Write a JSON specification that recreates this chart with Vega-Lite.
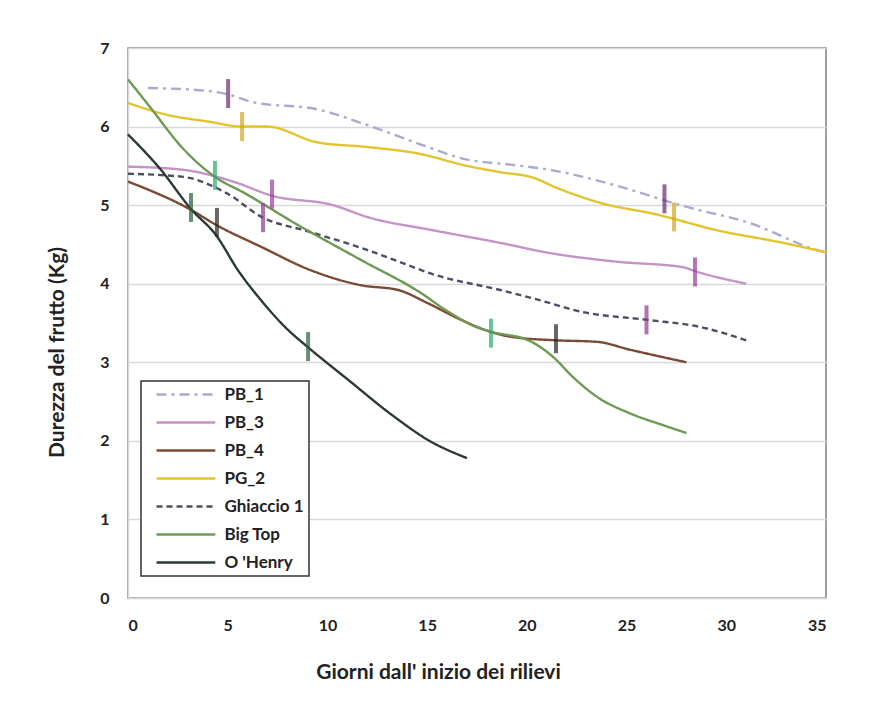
{
  "$schema": "https://vega.github.io/schema/vega-lite/v6.json",
  "width": 698,
  "height": 550,
  "autosize": {"type": "none"},
  "padding": {"left": 128, "top": 48, "right": 57, "bottom": 108},
  "background": "white",
  "datasets": {
    "lines": [
      {"series": "PB_1", "x": 1.0, "y": 6.49}, {"series": "PB_1", "x": 3.26, "y": 6.47}, {"series": "PB_1", "x": 5.02, "y": 6.41}, {"series": "PB_1", "x": 6.27, "y": 6.31}, {"series": "PB_1", "x": 9.48, "y": 6.22}, {"series": "PB_1", "x": 11.99, "y": 6.02}, {"series": "PB_1", "x": 14.49, "y": 5.79}, {"series": "PB_1", "x": 17.0, "y": 5.58}, {"series": "PB_1", "x": 19.0, "y": 5.52}, {"series": "PB_1", "x": 21.16, "y": 5.45}, {"series": "PB_1", "x": 24.32, "y": 5.26}, {"series": "PB_1", "x": 27.83, "y": 4.99}, {"series": "PB_1", "x": 31.19, "y": 4.77}, {"series": "PB_1", "x": 34.55, "y": 4.43}, {"series": "PB_1", "x": 35, "y": 4.4},
      {"series": "PB_3", "x": 0, "y": 5.49}, {"series": "PB_3", "x": 2.76, "y": 5.45}, {"series": "PB_3", "x": 5.27, "y": 5.3}, {"series": "PB_3", "x": 7.22, "y": 5.12}, {"series": "PB_3", "x": 10.28, "y": 5.0}, {"series": "PB_3", "x": 11.99, "y": 4.85}, {"series": "PB_3", "x": 15.3, "y": 4.68}, {"series": "PB_3", "x": 18.66, "y": 4.52}, {"series": "PB_3", "x": 21.16, "y": 4.39}, {"series": "PB_3", "x": 24.52, "y": 4.28}, {"series": "PB_3", "x": 27.83, "y": 4.21}, {"series": "PB_3", "x": 28.43, "y": 4.16}, {"series": "PB_3", "x": 31, "y": 4.0},
      {"series": "PB_4", "x": 0, "y": 5.3}, {"series": "PB_4", "x": 3.16, "y": 4.94}, {"series": "PB_4", "x": 4.41, "y": 4.75}, {"series": "PB_4", "x": 6.67, "y": 4.47}, {"series": "PB_4", "x": 9.18, "y": 4.17}, {"series": "PB_4", "x": 11.7, "y": 3.98}, {"series": "PB_4", "x": 13.54, "y": 3.92}, {"series": "PB_4", "x": 15.05, "y": 3.75}, {"series": "PB_4", "x": 16.7, "y": 3.54}, {"series": "PB_4", "x": 18.15, "y": 3.39}, {"series": "PB_4", "x": 19.31, "y": 3.32}, {"series": "PB_4", "x": 21.46, "y": 3.28}, {"series": "PB_4", "x": 23.52, "y": 3.26}, {"series": "PB_4", "x": 25.17, "y": 3.16}, {"series": "PB_4", "x": 28, "y": 3.0},
      {"series": "PG_2", "x": 0, "y": 6.3}, {"series": "PG_2", "x": 1.96, "y": 6.15}, {"series": "PG_2", "x": 4.11, "y": 6.06}, {"series": "PG_2", "x": 5.72, "y": 6.0}, {"series": "PG_2", "x": 6.97, "y": 6.0}, {"series": "PG_2", "x": 9.48, "y": 5.8}, {"series": "PG_2", "x": 11.99, "y": 5.74}, {"series": "PG_2", "x": 14.49, "y": 5.66}, {"series": "PG_2", "x": 17.0, "y": 5.5}, {"series": "PG_2", "x": 18.66, "y": 5.42}, {"series": "PG_2", "x": 20.31, "y": 5.35}, {"series": "PG_2", "x": 21.5, "y": 5.22}, {"series": "PG_2", "x": 23.67, "y": 5.03}, {"series": "PG_2", "x": 26.53, "y": 4.88}, {"series": "PG_2", "x": 29.54, "y": 4.68}, {"series": "PG_2", "x": 32.85, "y": 4.52}, {"series": "PG_2", "x": 35, "y": 4.4},
      {"series": "Ghiaccio 1", "x": 0, "y": 5.4}, {"series": "Ghiaccio 1", "x": 2.76, "y": 5.36}, {"series": "Ghiaccio 1", "x": 4.96, "y": 5.15}, {"series": "Ghiaccio 1", "x": 6.77, "y": 4.84}, {"series": "Ghiaccio 1", "x": 8.98, "y": 4.67}, {"series": "Ghiaccio 1", "x": 11.99, "y": 4.43}, {"series": "Ghiaccio 1", "x": 13.39, "y": 4.3}, {"series": "Ghiaccio 1", "x": 15.3, "y": 4.12}, {"series": "Ghiaccio 1", "x": 18.66, "y": 3.92}, {"series": "Ghiaccio 1", "x": 20.5, "y": 3.8}, {"series": "Ghiaccio 1", "x": 22.8, "y": 3.64}, {"series": "Ghiaccio 1", "x": 26.03, "y": 3.54}, {"series": "Ghiaccio 1", "x": 28.69, "y": 3.45}, {"series": "Ghiaccio 1", "x": 31, "y": 3.28},
      {"series": "Big Top", "x": 0, "y": 6.6}, {"series": "Big Top", "x": 1.1, "y": 6.25}, {"series": "Big Top", "x": 2.76, "y": 5.72}, {"series": "Big Top", "x": 4.36, "y": 5.36}, {"series": "Big Top", "x": 5.87, "y": 5.15}, {"series": "Big Top", "x": 8.37, "y": 4.77}, {"series": "Big Top", "x": 11.7, "y": 4.3}, {"series": "Big Top", "x": 14.7, "y": 3.88}, {"series": "Big Top", "x": 15.9, "y": 3.67}, {"series": "Big Top", "x": 17.55, "y": 3.44}, {"series": "Big Top", "x": 18.2, "y": 3.39}, {"series": "Big Top", "x": 20.16, "y": 3.27}, {"series": "Big Top", "x": 21.31, "y": 3.07}, {"series": "Big Top", "x": 22.32, "y": 2.81}, {"series": "Big Top", "x": 23.52, "y": 2.56}, {"series": "Big Top", "x": 25.17, "y": 2.35}, {"series": "Big Top", "x": 26.83, "y": 2.2}, {"series": "Big Top", "x": 28, "y": 2.1},
      {"series": "O 'Henry", "x": 0, "y": 5.9}, {"series": "O 'Henry", "x": 1.65, "y": 5.45}, {"series": "O 'Henry", "x": 3.16, "y": 4.95}, {"series": "O 'Henry", "x": 4.41, "y": 4.62}, {"series": "O 'Henry", "x": 5.52, "y": 4.17}, {"series": "O 'Henry", "x": 6.67, "y": 3.79}, {"series": "O 'Henry", "x": 7.87, "y": 3.45}, {"series": "O 'Henry", "x": 9.03, "y": 3.19}, {"series": "O 'Henry", "x": 10.88, "y": 2.81}, {"series": "O 'Henry", "x": 13.39, "y": 2.3}, {"series": "O 'Henry", "x": 15.05, "y": 2.01}, {"series": "O 'Henry", "x": 17.0, "y": 1.78}
    ],
    "markers": [
      {"series": "PB_1", "x": 5.02, "y": 6.42}, {"series": "PB_1", "x": 26.9, "y": 5.08},
      {"series": "PG_2", "x": 5.72, "y": 6.0}, {"series": "PG_2", "x": 27.38, "y": 4.85},
      {"series": "PB_3", "x": 7.22, "y": 5.14}, {"series": "PB_3", "x": 28.43, "y": 4.15},
      {"series": "Ghiaccio 1", "x": 6.77, "y": 4.84}, {"series": "Ghiaccio 1", "x": 26.0, "y": 3.54},
      {"series": "Big Top", "x": 4.36, "y": 5.38}, {"series": "Big Top", "x": 18.2, "y": 3.37},
      {"series": "PB_4", "x": 4.46, "y": 4.78}, {"series": "PB_4", "x": 21.46, "y": 3.3},
      {"series": "O 'Henry", "x": 3.16, "y": 4.97}, {"series": "O 'Henry", "x": 9.03, "y": 3.2}
    ]
  },
  "layer": [
    {
      "data": {"name": "lines"},
      "mark": {"type": "line", "interpolate": "monotone", "strokeWidth": 2.4},
      "encoding": {
        "x": {
          "field": "x", "type": "quantitative",
          "scale": {"domain": [0, 35], "nice": false},
          "axis": {
            "values": [0, 5, 10, 15, 20, 25, 30, 35], "format": "d",
            "grid": false, "ticks": false,
            "domainColor": "#d9d9d9", "domainWidth": 1.5,
            "labelFont": "Lato", "labelFontWeight": "bold", "labelFontSize": 16, "labelColor": "#222222", "labelPadding": 19,
            "title": "Giorni dall' inizio dei rilievi",
            "titleFont": "Lato", "titleFontSize": 21, "titleFontWeight": "bold", "titleColor": "#222222",
            "titleX": 310, "titleY": 74, "titleBaseline": "middle", "titleAlign": "center"
          }
        },
        "y": {
          "field": "y", "type": "quantitative",
          "scale": {"domain": [0, 7], "nice": false},
          "axis": {
            "values": [0, 1, 2, 3, 4, 5, 6, 7], "format": "d",
            "grid": true, "gridColor": "#d9d9d9", "gridWidth": 1.5, "ticks": false,
            "domainColor": "#d9d9d9", "domainWidth": 1.5,
            "labelFont": "Lato", "labelFontWeight": "bold", "labelFontSize": 16, "labelColor": "#222222", "labelPadding": 19,
            "title": "Durezza del frutto (Kg)",
            "titleFont": "Lato", "titleFontSize": 21, "titleFontWeight": "bold", "titleColor": "#222222",
            "titleX": -71, "titleY": 304, "titleBaseline": "middle", "titleAlign": "center"
          }
        },
        "stroke": {
          "field": "series", "type": "nominal",
          "scale": {
            "domain": ["PB_1", "PB_3", "PB_4", "PG_2", "Ghiaccio 1", "Big Top", "O 'Henry"],
            "range": ["#a9abcf", "#c493c8", "#7b4a33", "#e2c42c", "#4c4f63", "#6e9a55", "#2c3a36"]
          },
          "legend": {"title": null, "symbolType": "M-6,0H6"}
        },
        "strokeDash": {
          "field": "series", "type": "nominal",
          "scale": {
            "domain": ["PB_1", "PB_3", "PB_4", "PG_2", "Ghiaccio 1", "Big Top", "O 'Henry"],
            "range": [[10, 5, 3, 5], [1, 0], [1, 0], [1, 0], [6, 4], [1, 0], [1, 0]]
          },
          "legend": {"title": null, "symbolType": "M-6,0H6"}
        }
      }
    },
    {
      "data": {"name": "markers"},
      "mark": {"type": "tick", "orient": "vertical", "size": 29, "thickness": 4},
      "encoding": {
        "x": {"field": "x", "type": "quantitative"},
        "y": {"field": "y", "type": "quantitative"},
        "fill": {
          "field": "series", "type": "nominal",
          "scale": {
            "domain": ["PB_1", "PB_3", "PB_4", "PG_2", "Ghiaccio 1", "Big Top", "O 'Henry"],
            "range": ["#6b2a6e", "#9a3a9a", "#262626", "#d4a419", "#8a3a8e", "#2ea866", "#2b5e36"]
          },
          "legend": null
        }
      }
    }
  ],
  "config": {
    "view": {"stroke": "#808080", "strokeWidth": 1.5},
    "legend": {
      "orient": "none", "legendX": 13, "legendY": 333,
      "padding": 5, "strokeColor": "#333333", "strokeWidth": 1.5, "fillColor": "white",
      "symbolSize": 96, "symbolStrokeWidth": 2.5, "symbolOffset": 31.4, "labelOffset": 30,
      "labelFont": "Lato", "labelFontSize": 17, "labelFontWeight": "bold", "labelColor": "#222222",
      "rowPadding": 10, "labelLimit": 200
    }
  }
}
